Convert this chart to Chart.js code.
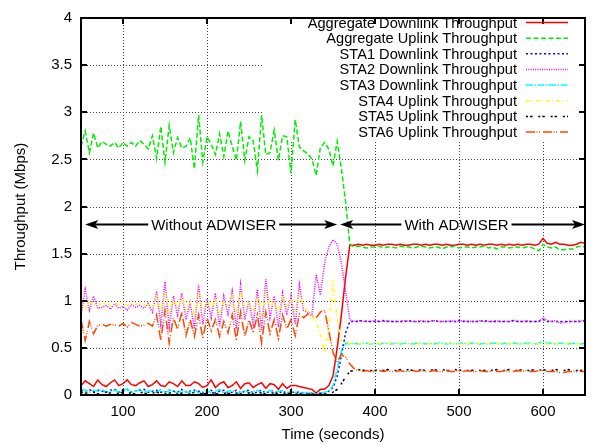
<!DOCTYPE html>
<html>
<head>
<meta charset="utf-8">
<script src="https://cdn.jsdelivr.net/npm/chart.js@4.4.1/dist/chart.umd.min.js"></script>
<style>
  html, body { margin: 0; padding: 0; background: #fff; }
  #wrap { width: 597px; height: 445px; }
</style>
</head>
<body>
<div id="wrap"><canvas id="chart" width="597" height="445"></canvas></div>
<script>
// time axis (seconds), one sample every 5 s
const times = [50,55,60,65,70,75,80,85,90,95,100,105,110,115,120,125,130,135,140,145,
  150,155,160,165,170,175,180,185,190,195,200,205,210,215,220,225,230,235,240,245,
  250,255,260,265,270,275,280,285,290,295,300,305,310,315,320,325,330,335,340,345,
  350,355,360,365,370,375,380,385,390,395,400,405,410,415,420,425,430,435,440,445,
  450,455,460,465,470,475,480,485,490,495,500,505,510,515,520,525,530,535,540,545,
  550,555,560,565,570,575,580,585,590,595,600,605,610,615,620,625,630,635,640,645,650];

const aggDown = [0.10,0.15,0.12,0.09,0.16,0.11,0.09,0.13,0.16,0.10,
  0.12,0.16,0.11,0.10,0.13,0.15,0.09,0.11,0.15,0.10,
  0.09,0.14,0.12,0.09,0.15,0.10,0.10,0.14,0.12,0.08,
  0.10,0.16,0.08,0.12,0.14,0.08,0.10,0.14,0.07,0.12,
  0.13,0.08,0.11,0.13,0.07,0.12,0.11,0.06,0.12,0.07,
  0.10,0.10,0.09,0.08,0.07,0.06,0.02,0.06,0.06,
  0.10,0.20,0.50,0.85,1.25,1.59,
  1.59,1.60,1.59,1.60,1.59,1.59,1.60,1.59,1.60,1.60,
  1.59,1.60,1.59,1.59,1.60,1.60,1.59,1.60,1.59,1.60,
  1.60,1.59,1.60,1.59,1.59,1.60,1.60,1.59,1.60,1.59,
  1.60,1.59,1.60,1.60,1.59,1.60,1.59,1.60,1.59,1.60,
  1.59,1.60,1.60,1.59,1.60,
  1.66,1.61,1.60,1.62,1.60,1.60,1.59,1.59,1.60,1.62,1.61];

const aggUp = [2.64,2.80,2.57,2.78,2.62,2.69,2.66,2.64,2.68,2.62,
  2.68,2.64,2.68,2.64,2.70,2.66,2.61,2.75,2.51,2.85,
  2.47,2.86,2.57,2.73,2.62,2.64,2.73,2.40,2.97,2.47,
  2.74,2.66,2.55,2.77,2.53,2.80,2.64,2.49,2.90,2.49,
  2.74,2.70,2.38,2.97,2.55,2.57,2.81,2.49,2.75,2.74,
  2.35,2.92,2.63,2.59,2.56,2.50,2.33,2.63,2.68,
  2.61,2.43,2.69,2.40,2.05,1.60,
  1.57,1.58,1.57,1.56,1.57,1.57,1.58,1.56,1.57,1.57,
  1.56,1.58,1.57,1.57,1.56,1.57,1.58,1.57,1.56,1.57,
  1.57,1.55,1.57,1.57,1.58,1.56,1.57,1.57,1.56,1.57,
  1.57,1.58,1.56,1.57,1.55,1.57,1.57,1.56,1.57,1.57,
  1.56,1.57,1.57,1.55,1.53,
  1.60,1.57,1.56,1.57,1.54,1.54,1.55,1.55,1.57,1.58,1.57];

const sta1Down = [0.05,0.04,0.06,0.03,0.05,0.04,0.03,0.05,0.06,0.03,
  0.04,0.06,0.03,0.04,0.05,0.06,0.03,0.04,0.05,0.03,
  0.03,0.05,0.04,0.03,0.06,0.03,0.04,0.05,0.04,0.02,
  0.03,0.05,0.02,0.04,0.05,0.02,0.03,0.05,0.02,0.04,
  0.05,0.02,0.03,0.05,0.02,0.04,0.04,0.02,0.04,0.02,
  0.03,0.03,0.03,0.02,0.02,0.02,0.01,0.02,0.02,
  0.04,0.08,0.20,0.42,0.66,0.78,
  0.78,0.78,0.79,0.78,0.78,0.78,0.78,0.79,0.78,0.78,
  0.78,0.78,0.78,0.79,0.78,0.78,0.78,0.78,0.78,0.79,
  0.78,0.78,0.78,0.78,0.78,0.79,0.78,0.78,0.78,0.78,
  0.78,0.79,0.78,0.78,0.78,0.78,0.78,0.78,0.79,0.78,
  0.78,0.78,0.78,0.78,0.78,
  0.80,0.78,0.78,0.78,0.78,0.78,0.78,0.78,0.78,0.78,0.79];

const sta2Down = [0.85,1.12,0.90,1.05,0.92,0.93,0.95,0.91,0.97,0.92,
  0.94,0.90,0.96,0.93,0.95,0.92,0.97,0.88,1.10,0.75,
  1.20,0.72,1.05,0.85,1.08,0.80,0.98,0.70,1.17,0.75,
  1.02,0.82,1.08,0.72,1.05,0.86,1.10,0.70,1.17,0.80,
  1.00,0.75,1.12,0.68,1.23,0.82,1.05,0.72,1.08,0.85,
  1.05,0.75,1.17,0.90,0.88,0.86,1.28,1.06,1.40,
  1.57,1.65,1.60,1.40,1.10,0.80,
  0.78,0.79,0.78,0.78,0.78,0.79,0.78,0.78,0.79,0.78,
  0.78,0.78,0.79,0.78,0.78,0.78,0.79,0.78,0.78,0.79,
  0.78,0.78,0.78,0.79,0.78,0.78,0.79,0.78,0.78,0.78,
  0.79,0.78,0.78,0.78,0.79,0.78,0.78,0.78,0.79,0.78,
  0.78,0.79,0.78,0.78,0.78,
  0.82,0.79,0.78,0.79,0.76,0.77,0.78,0.78,0.78,0.79,0.78];

const sta3Down = [0.06,0.05,0.03,0.05,0.04,0.06,0.03,0.04,0.05,0.03,
  0.05,0.06,0.03,0.04,0.06,0.03,0.04,0.05,0.03,0.06,
  0.02,0.05,0.04,0.02,0.05,0.03,0.03,0.06,0.02,0.04,
  0.05,0.02,0.04,0.06,0.02,0.04,0.05,0.02,0.03,0.05,
  0.02,0.04,0.05,0.02,0.03,0.05,0.02,0.04,0.05,0.02,
  0.04,0.03,0.02,0.02,0.03,0.02,0.01,0.02,0.03,
  0.04,0.10,0.28,0.47,0.55,0.54,
  0.55,0.54,0.55,0.55,0.54,0.55,0.54,0.55,0.55,0.54,
  0.55,0.54,0.55,0.55,0.54,0.55,0.55,0.54,0.55,0.54,
  0.55,0.55,0.54,0.55,0.54,0.55,0.55,0.54,0.55,0.55,
  0.54,0.55,0.54,0.55,0.55,0.54,0.55,0.54,0.55,0.55,
  0.54,0.55,0.55,0.54,0.55,
  0.57,0.55,0.55,0.54,0.55,0.55,0.54,0.55,0.55,0.54,0.55];

const sta4Up = [1.02,0.92,1.00,0.95,0.97,0.96,0.98,0.95,0.97,0.96,
  0.98,0.95,0.97,0.96,0.98,0.95,0.97,0.93,1.05,0.90,
  1.08,0.88,1.02,0.93,1.04,0.90,0.99,0.86,1.06,0.90,
  1.00,0.92,1.03,0.88,1.00,0.94,1.05,0.87,1.08,0.92,
  0.98,0.90,1.04,0.86,1.08,0.93,1.00,0.88,1.03,0.94,
  1.02,0.90,1.05,0.95,0.88,0.82,0.78,0.65,0.45,
  0.72,1.22,0.80,0.56,0.54,0.55,
  0.54,0.55,0.54,0.54,0.55,0.54,0.55,0.54,0.54,0.55,
  0.54,0.55,0.54,0.54,0.55,0.54,0.54,0.55,0.54,0.55,
  0.54,0.54,0.55,0.54,0.55,0.54,0.54,0.55,0.54,0.54,
  0.55,0.54,0.55,0.54,0.54,0.55,0.54,0.55,0.54,0.54,
  0.55,0.54,0.54,0.55,0.54,
  0.56,0.54,0.54,0.55,0.54,0.54,0.55,0.54,0.54,0.55,0.54];

const sta5Up = [0.03,0.02,0.02,0.03,0.01,0.02,0.03,0.02,0.01,0.02,
  0.03,0.02,0.02,0.01,0.03,0.02,0.01,0.02,0.03,0.02,
  0.01,0.02,0.03,0.01,0.02,0.02,0.01,0.03,0.02,0.01,
  0.02,0.03,0.01,0.02,0.02,0.01,0.03,0.02,0.01,0.02,
  0.02,0.01,0.03,0.02,0.01,0.02,0.02,0.01,0.02,0.01,
  0.02,0.01,0.01,0.01,0.01,0.01,0.00,0.01,0.01,
  0.01,0.03,0.06,0.12,0.19,0.25,
  0.26,0.27,0.26,0.27,0.26,0.26,0.27,0.26,0.27,0.26,
  0.26,0.27,0.26,0.27,0.26,0.26,0.27,0.26,0.26,0.27,
  0.26,0.27,0.26,0.26,0.27,0.26,0.27,0.26,0.26,0.27,
  0.26,0.26,0.27,0.26,0.27,0.26,0.26,0.27,0.26,0.26,
  0.27,0.26,0.26,0.27,0.26,
  0.27,0.26,0.26,0.27,0.26,0.26,0.27,0.26,0.26,0.26,0.27];

const sta6Up = [0.80,0.58,0.78,0.65,0.74,0.75,0.73,0.75,0.74,0.73,
  0.76,0.72,0.77,0.75,0.73,0.74,0.76,0.73,0.85,0.58,
  0.90,0.55,0.82,0.70,0.88,0.63,0.80,0.62,0.85,0.60,
  0.82,0.68,0.80,0.62,0.78,0.66,0.85,0.58,0.88,0.62,
  0.80,0.66,0.85,0.55,0.88,0.65,0.80,0.60,0.85,0.70,
  0.80,0.63,0.86,0.82,0.86,0.84,0.82,0.88,0.90,
  0.68,0.45,0.35,0.43,0.40,0.33,
  0.28,0.26,0.25,0.26,0.25,0.25,0.26,0.25,0.26,0.25,
  0.25,0.26,0.25,0.25,0.26,0.25,0.26,0.25,0.25,0.26,
  0.25,0.25,0.26,0.25,0.25,0.26,0.25,0.26,0.25,0.25,
  0.26,0.25,0.25,0.26,0.25,0.25,0.26,0.25,0.25,0.26,
  0.25,0.26,0.25,0.25,0.26,
  0.26,0.25,0.25,0.25,0.24,0.24,0.25,0.25,0.25,0.25,0.25];

const xTicks = [100, 200, 300, 400, 500, 600];
const yTicks = [0, 0.5, 1, 1.5, 2, 2.5, 3, 3.5, 4];

const arrowLevel = 1.81;
const phases = [
  { label: 'Without ADWISER', from: 55, to: 355, mid: 208 },
  { label: 'With ADWISER', from: 358.5, to: 650, mid: 497 }
];

const FONT = "'Liberation Sans', Arial, sans-serif";
Chart.defaults.font.family = FONT;
Chart.defaults.font.size = 15;
Chart.defaults.color = '#000';

// key box corner (grid stops there, as in gnuplot)
const KEY_LEFT = 262, KEY_BOTTOM = 140;

function series(label, values, color, dash) {
  return {
    label: label,
    data: times.map((t, i) => ({ x: t, y: values[i] })),
    borderColor: color,
    backgroundColor: color,
    borderWidth: 1.5,
    borderDash: dash,
    pointRadius: 0,
    tension: 0,
    fill: false
  };
}

const datasets = [
  series('Aggregate Downlink Throughput', aggDown, '#ff0000', []),
  series('Aggregate Uplink Throughput', aggUp, '#00ee00', [5, 2.5]),
  series('STA1 Downlink Throughput', sta1Down, '#0000ff', [2, 2.5]),
  series('STA2 Downlink Throughput', sta2Down, '#ff00ff', [1, 1.3]),
  series('STA3 Downlink Throughput', sta3Down, '#00ffff', [7, 1.5, 1.5, 1.5]),
  series('STA4 Uplink Throughput', sta4Up, '#ffff00', [3.5, 2.3, 1, 3.3]),
  series('STA5 Uplink Throughput', sta5Up, '#000000', [2, 2, 2.5, 5.8]),
  series('STA6 Uplink Throughput', sta6Up, '#ff4500', [9, 1.5, 1, 1.5, 1, 3])
];
// gnuplot draws later curves on top
datasets.forEach((d, i) => { d.order = datasets.length - i; });

function arrowHead(ctx, x, y, dir) {
  ctx.beginPath();
  ctx.moveTo(x, y);
  ctx.lineTo(x - dir * 13, y - 4.5);
  ctx.lineTo(x - dir * 10, y);
  ctx.lineTo(x - dir * 13, y + 4.5);
  ctx.closePath();
  ctx.fill();
}

const gnuplotLook = {
  id: 'gnuplotLook',
  beforeDatasetsDraw(chart) {
    // dotted grid, kept out of the key area
    const { ctx, chartArea: a } = chart;
    const xs = chart.scales.x, ys = chart.scales.y;
    ctx.save();
    ctx.strokeStyle = '#444';
    ctx.lineWidth = 1;
    ctx.setLineDash([1, 2]);
    ctx.beginPath();
    xTicks.forEach(v => {
      const px = Math.round(xs.getPixelForValue(v)) + 0.5;
      ctx.moveTo(px, a.bottom);
      ctx.lineTo(px, px > KEY_LEFT ? KEY_BOTTOM : a.top);
    });
    yTicks.slice(1, -1).forEach(v => {
      const py = Math.round(ys.getPixelForValue(v)) + 0.5;
      ctx.moveTo(a.left, py);
      ctx.lineTo(py < KEY_BOTTOM ? KEY_LEFT : a.right, py);
    });
    ctx.stroke();
    ctx.restore();
  },
  afterDatasetsDraw(chart) {
    const { ctx, chartArea: a } = chart;
    const xs = chart.scales.x, ys = chart.scales.y;
    ctx.save();

    // phase arrows
    const y = Math.round(ys.getPixelForValue(arrowLevel)) + 0.5;
    ctx.strokeStyle = '#000';
    ctx.fillStyle = '#000';
    ctx.lineWidth = 2;
    ctx.font = '15px ' + FONT;
    ctx.textAlign = 'center';
    ctx.textBaseline = 'middle';
    phases.forEach(p => {
      const x1 = xs.getPixelForValue(p.from), x2 = xs.getPixelForValue(p.to);
      const xm = xs.getPixelForValue(p.mid);
      const w = ctx.measureText(p.label).width;
      ctx.beginPath();
      ctx.moveTo(x1 + 10, y);
      ctx.lineTo(xm - w / 2 - 3, y);
      ctx.moveTo(xm + w / 2 + 3, y);
      ctx.lineTo(x2 - 10, y);
      ctx.stroke();
      arrowHead(ctx, x1, y, -1);
      arrowHead(ctx, x2, y, 1);
      ctx.fillText(p.label, xm, y + 1);
    });

    // border
    ctx.lineWidth = 2;
    ctx.strokeRect(a.left, a.top, a.right - a.left, a.bottom - a.top);

    // inward tick marks on all four sides
    ctx.beginPath();
    xTicks.forEach(v => {
      const px = Math.round(xs.getPixelForValue(v));
      ctx.moveTo(px, a.bottom); ctx.lineTo(px, a.bottom - 6);
      ctx.moveTo(px, a.top); ctx.lineTo(px, a.top + 6);
    });
    yTicks.slice(1, -1).forEach(v => {
      const py = Math.round(ys.getPixelForValue(v));
      ctx.moveTo(a.left, py); ctx.lineTo(a.left + 6, py);
      ctx.moveTo(a.right, py); ctx.lineTo(a.right - 6, py);
    });
    ctx.stroke();

    // key
    ctx.font = '14.6px ' + FONT;
    ctx.textAlign = 'right';
    ctx.lineWidth = 1.5;
    chart.data.datasets.forEach((d, i) => {
      const ry = 22.5 + i * 15.65;
      ctx.fillStyle = '#000';
      ctx.fillText(d.label, 517, ry + 1);
      ctx.strokeStyle = d.borderColor;
      ctx.setLineDash(d.borderDash);
      ctx.beginPath();
      ctx.moveTo(526, ry);
      ctx.lineTo(568, ry);
      ctx.stroke();
      ctx.setLineDash([]);
    });
    ctx.restore();
  }
};

new Chart(document.getElementById('chart'), {
  type: 'line',
  data: { datasets: datasets },
  options: {
    responsive: false,
    animation: false,
    devicePixelRatio: 1,
    layout: { padding: { top: 8, right: 12, left: 0, bottom: 0 } },
    plugins: { legend: { display: false }, tooltip: { enabled: false } },
    scales: {
      x: {
        type: 'linear',
        min: 50,
        max: 650,
        afterBuildTicks: (s) => { s.ticks = xTicks.map(v => ({ value: v })); },
        afterFit: (s) => { s.height = 50; },
        ticks: { padding: 8, maxRotation: 0, callback: (v) => String(v) },
        grid: { display: false, drawTicks: false },
        border: { display: false },
        title: { display: true, text: 'Time (seconds)', padding: { top: 0, bottom: 1 } }
      },
      y: {
        min: 0,
        max: 4,
        afterBuildTicks: (s) => { s.ticks = yTicks.map(v => ({ value: v })); },
        afterFit: (s) => { s.width = 81; },
        ticks: { padding: 9, callback: (v) => String(v) },
        grid: { display: false, drawTicks: false },
        border: { display: false },
        title: { display: true, text: 'Throughput (Mbps)', padding: { top: 12, bottom: 0 } }
      }
    }
  },
  plugins: [gnuplotLook]
});
</script>
</body>
</html>
